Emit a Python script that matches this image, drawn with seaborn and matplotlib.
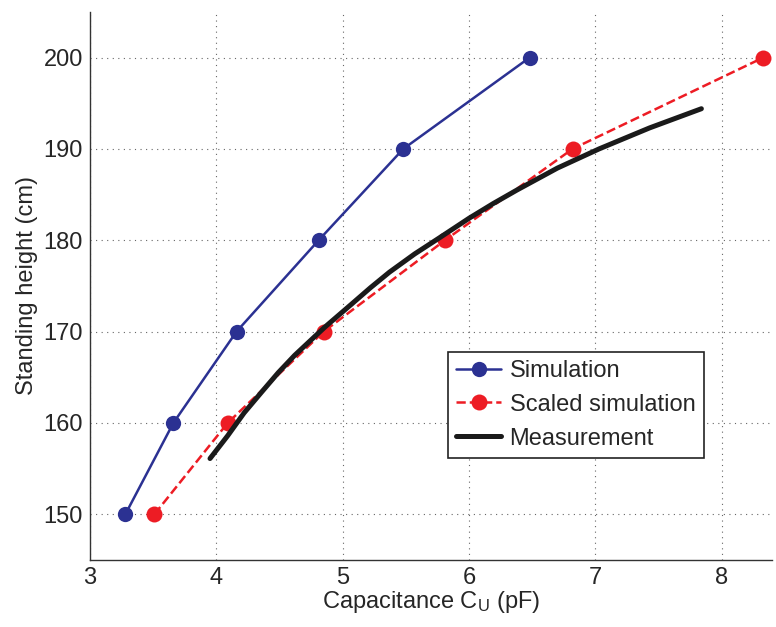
import numpy as np
import pandas as pd
import matplotlib
matplotlib.use("Agg")
import matplotlib.pyplot as plt
import seaborn as sns
from matplotlib.ticker import MultipleLocator

# values
heights = [150, 160, 170, 180, 190, 200]
sim_cap = [3.28, 3.66, 4.16, 4.81, 5.48, 6.48]
scaled_cap = [3.51, 4.09, 4.85, 5.81, 6.82, 8.33]

meas_cap = [3.95, 4.09, 4.22, 4.36, 4.49, 4.62, 4.86, 5.07, 5.22, 5.37,
            5.57, 5.77, 6.00, 6.19, 6.38, 6.70, 7.03, 7.43, 7.84]
meas_height = [156.1, 158.6, 161.1, 163.4, 165.5, 167.4, 170.5, 173.0, 174.8, 176.5,
               178.5, 180.3, 182.4, 184.0, 185.5, 187.9, 190.0, 192.3, 194.4]

sns.set_style("white")
plt.rcParams['font.family'] = ['Liberation Sans', 'DejaVu Sans']
plt.rcParams['mathtext.default'] = 'regular'

fig = plt.figure(figsize=(7.76, 6.27), dpi=100)
ax = fig.add_axes([0.116, 0.107, 0.879, 0.874])

blue = '#2b3192'
red = '#ed1c24'

sns.lineplot(x=sim_cap, y=heights, ax=ax, sort=False, color=blue, lw=1.8,
             marker='o', markersize=11, markeredgewidth=0, label='Simulation')
sns.lineplot(x=scaled_cap, y=heights, ax=ax, sort=False, color=red, lw=1.8,
             linestyle='--', dashes=(4.5, 3), marker='o', markersize=11.5,
             markeredgewidth=0, label='Scaled simulation')
sns.lineplot(x=meas_cap, y=meas_height, ax=ax, sort=False, color='#1a1a1a',
             lw=3.6, label='Measurement')

ax.set_xlim(3, 8.4)
ax.set_ylim(145, 205)
ax.set_xticks([3, 4, 5, 6, 7, 8])
ax.set_yticks([150, 160, 170, 180, 190, 200])
ax.yaxis.set_minor_locator(MultipleLocator(2))
ax.xaxis.set_minor_locator(MultipleLocator(0.2))
ax.tick_params(axis='both', which='major', direction='in', length=5,
               labelsize=17, color='#333333', pad=5)
ax.tick_params(axis='both', which='minor', direction='in', length=2.5,
               color='#333333')
ax.tick_params(top=False, right=False, which='both')
ax.grid(True, which='major', linestyle=(0, (1, 4)), color='#666666', lw=0.8)

for side in ['top', 'right']:
    ax.spines[side].set_visible(False)
for side in ['left', 'bottom']:
    ax.spines[side].set_color('#333333')
    ax.spines[side].set_linewidth(1.0)

ax.set_xlabel('Capacitance C$_U$ (pF)', fontsize=17, labelpad=0)
ax.set_ylabel('Standing height (cm)', fontsize=17, labelpad=4)

leg = ax.legend(loc='upper left', bbox_to_anchor=(0.525, 0.38), fontsize=17,
                frameon=True, fancybox=False, framealpha=1, edgecolor='#222222',
                handlelength=1.9, borderpad=0.35, labelspacing=0.5,
                handletextpad=0.35, borderaxespad=0)
leg.get_frame().set_linewidth(1.2)

fig.savefig('out.png', dpi=100)
